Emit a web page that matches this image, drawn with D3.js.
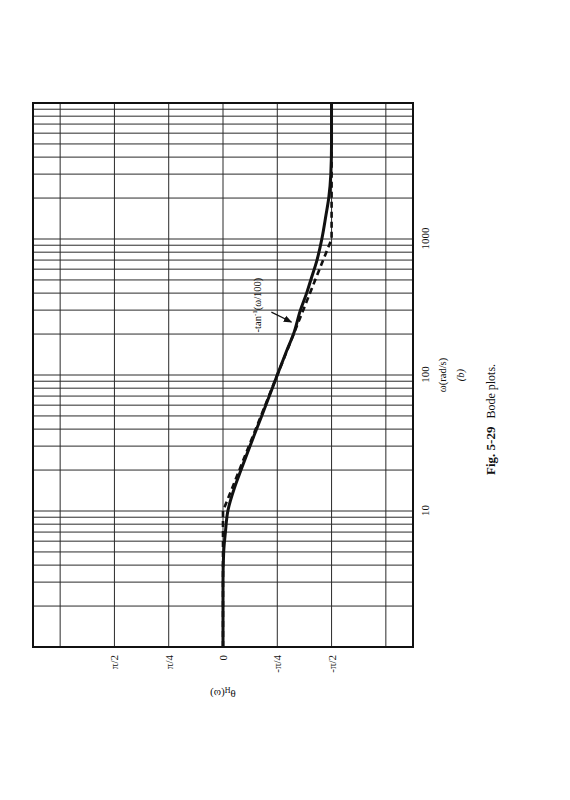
<html>
<script src="https://d3js.org/d3.v7.min.js"></script>
<body style="margin:0;background:#fff">
<svg width=570 height=800></svg>
<script>
// frequency axis (rad/s), log
const omegaDomain = [1, 10000];
const omegaTicks = [10, 100, 1000];
// phase axis (rad)
const thetaDomain = [7 * Math.PI / 8, -7 * Math.PI / 8];
const thetaGrid = [3 * Math.PI / 4, Math.PI / 2, Math.PI / 4, 0, -Math.PI / 4, -Math.PI / 2, -3 * Math.PI / 4];
const thetaTicks = [Math.PI / 2, Math.PI / 4, 0, -Math.PI / 4, -Math.PI / 2];
const thetaLabels = ["\u03c0/2", "\u03c0/4", "0", "-\u03c0/4", "-\u03c0/2"];

// exact phase curve (solid)
const curveOmega = [1, 3, 5, 7, 10, 15, 20, 30, 50, 70, 100, 150, 200, 300, 400, 500, 700, 1000, 1500, 2000, 3000, 5000, 10000];
const curvePhase = [0, 0, -0.01, -0.035, -0.07, -0.17, -0.26, -0.39, -0.56, -0.67, -0.785, -0.92, -1.02, -1.12, -1.21, -1.27, -1.36, -1.43, -1.49, -1.53, -1.56, -1.57, -1.57];

// straight-line approximation (dashed)
const asymOmega = [1, 10, 1000, 10000];
const asymPhase = [0, 0, -1.571, -1.571];

// annotation
const noteText = ["-tan", "-1", "(\u03c9/100)"];
const noteAt = { omega: 327, phase: -0.55 };
const arrowFrom = { omega: 290, phase: -0.70 };
const arrowTo = { omega: 245, phase: -0.99 };

const svg = d3.select("svg");
const serif = "'Liberation Serif', 'DejaVu Serif', serif";

// the figure is printed turned a quarter turn: draw it upright, then rotate
const g = svg.append("g").attr("transform", "translate(0,800) rotate(-90)");

const x = d3.scaleLog().domain(omegaDomain).range([153, 697]);
const y = d3.scaleLinear().domain(thetaDomain).range([33, 413]);

//------------------------grid------------------------//
const grid = g.append("g").attr("stroke", "#2a2a2a").attr("stroke-width", 1);
grid.selectAll(".gx")
  .data(x.ticks())
  .enter().append("line")
  .attr("x1", d => x(d)).attr("x2", d => x(d))
  .attr("y1", y.range()[0]).attr("y2", y.range()[1]);
grid.selectAll(".gy")
  .data(thetaGrid)
  .enter().append("line")
  .attr("x1", x.range()[0]).attr("x2", x.range()[1])
  .attr("y1", d => y(d)).attr("y2", d => y(d));

// frame
g.append("rect")
  .attr("x", x.range()[0]).attr("y", y.range()[0])
  .attr("width", x.range()[1] - x.range()[0])
  .attr("height", y.range()[1] - y.range()[0])
  .attr("fill", "none").attr("stroke", "#111").attr("stroke-width", 2);

//------------------------axes------------------------//
const yAxis = g.append("g")
  .attr("transform", "translate(" + x.range()[0] + ",0)")
  .call(d3.axisLeft(y).tickValues(thetaTicks).tickFormat((d, i) => thetaLabels[i]).tickSize(0).tickPadding(8));
const xAxis = g.append("g")
  .attr("transform", "translate(0," + y.range()[1] + ")")
  .call(d3.axisBottom(x).tickValues(omegaTicks).tickFormat(d3.format("d")).tickSize(0).tickPadding(8));
[xAxis, yAxis].forEach(a => {
  a.select(".domain").remove();
  a.selectAll("text").style("font-family", serif).style("font-size", "11px").attr("fill", "#111");
});

// y title
const yt = g.append("text")
  .attr("transform", "translate(110," + d3.mean(y.range()) + ") rotate(-90)")
  .attr("text-anchor", "middle")
  .style("font-family", serif).style("font-size", "11px").attr("fill", "#111");
yt.append("tspan").text("\u03b8");
yt.append("tspan").text("H").attr("dy", 3).style("font-size", "8px");
yt.append("tspan").text("(\u03c9)").attr("dy", -3);

// x title
const xc = d3.mean(x.range());
g.append("text")
  .attr("x", xc).attr("y", 446)
  .attr("text-anchor", "middle")
  .style("font-family", serif).style("font-size", "10.5px").attr("fill", "#111")
  .text("\u03c9(rad/s)");
g.append("text")
  .attr("x", xc).attr("y", 464)
  .attr("text-anchor", "middle")
  .style("font-family", serif).style("font-size", "10.5px").style("font-style", "italic").attr("fill", "#111")
  .text("(b)");

// caption
const cap = g.append("text")
  .attr("x", 325).attr("y", 495)
  .style("font-family", serif).style("font-size", "13px").attr("fill", "#111");
cap.append("tspan").text("Fig. 5-29").style("font-weight", "bold");
cap.append("tspan").text("Bode plots.").attr("dx", 8).style("font-size", "12px");

//------------------------curves------------------------//
const line = d3.line()
  .x(d => x(d[0]))
  .y(d => y(d[1]))
  .curve(d3.curveMonotoneX);

g.append("path")
  .datum(d3.zip(asymOmega, asymPhase))
  .attr("d", d3.line().x(d => x(d[0])).y(d => y(d[1])))
  .attr("fill", "none").attr("stroke", "#111")
  .attr("stroke-width", 2.6).attr("stroke-dasharray", "6,4");

g.append("path")
  .datum(d3.zip(curveOmega, curvePhase))
  .attr("d", line)
  .attr("fill", "none").attr("stroke", "#111")
  .attr("stroke-width", 3);

//------------------------annotation------------------------//
const note = g.append("text")
  .attr("x", x(noteAt.omega)).attr("y", y(noteAt.phase))
  .attr("text-anchor", "middle")
  .style("font-family", serif).style("font-size", "10.5px").attr("fill", "#111");
note.append("tspan").text(noteText[0]);
note.append("tspan").text(noteText[1]).attr("dy", -4).style("font-size", "7px");
note.append("tspan").text(noteText[2]).attr("dy", 4);

svg.append("defs").append("marker")
  .attr("id", "head").attr("viewBox", "0 0 10 10")
  .attr("refX", 9).attr("refY", 5)
  .attr("markerWidth", 7).attr("markerHeight", 7)
  .attr("orient", "auto")
  .append("path").attr("d", "M0,1 L10,5 L0,9 Z").attr("fill", "#111");

g.append("line")
  .attr("x1", x(arrowFrom.omega)).attr("y1", y(arrowFrom.phase))
  .attr("x2", x(arrowTo.omega)).attr("y2", y(arrowTo.phase))
  .attr("stroke", "#111").attr("stroke-width", 1.2)
  .attr("marker-end", "url(#head)");
</script>
</body>
</html>
